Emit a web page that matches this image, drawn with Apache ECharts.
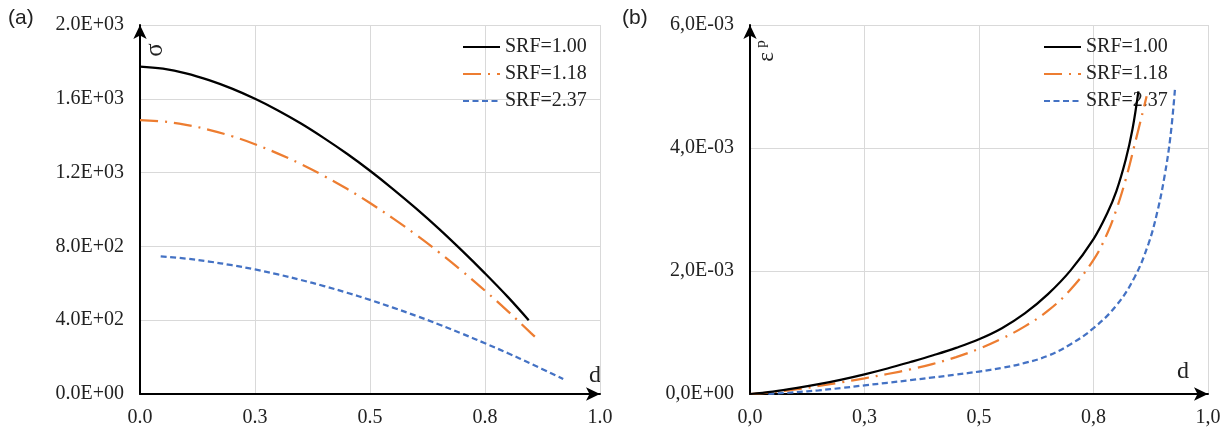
<!DOCTYPE html>
<html>
<head>
<meta charset="utf-8">
<script src="https://cdn.jsdelivr.net/npm/echarts@6/dist/echarts.min.js"></script>
<style>
html,body{margin:0;padding:0;background:#fff;}
#chart{width:1230px;height:434px;}
</style>
</head>
<body>
<div id="chart"></div>
<script>
// ---- Data ----
const seriesNames = ['SRF=1.00', 'SRF=1.18', 'SRF=2.37'];

// Panel (a): sigma vs d
const dA1 = [0, 0.05, 0.1, 0.15, 0.2, 0.25, 0.3, 0.35, 0.4, 0.45, 0.5, 0.55, 0.6, 0.65, 0.7, 0.75, 0.8, 0.845];
const sA1 = [1775, 1763, 1738, 1701, 1655, 1600, 1537, 1466, 1387, 1302, 1210, 1111, 1006, 895, 777, 654, 525, 400];
const dA2 = [0, 0.05, 0.1, 0.15, 0.2, 0.25, 0.3, 0.35, 0.4, 0.45, 0.5, 0.55, 0.6, 0.65, 0.7, 0.75, 0.8, 0.85, 0.866];
const sA2 = [1485, 1477, 1459, 1432, 1397, 1354, 1303, 1246, 1182, 1112, 1035, 952, 863, 768, 667, 560, 448, 330, 293];
const dA3 = [0.045, 0.1, 0.15, 0.2, 0.25, 0.3, 0.35, 0.4, 0.45, 0.5, 0.55, 0.6, 0.65, 0.7, 0.75, 0.8, 0.85, 0.92];
const sA3 = [746, 734, 718, 698, 675, 648, 618, 585, 549, 510, 468, 424, 377, 327, 275, 221, 164, 81];

// Panel (b): plastic strain vs d
const dB1 = [0, 0.05, 0.1, 0.15, 0.2, 0.25, 0.3, 0.35, 0.4, 0.45, 0.5, 0.55, 0.6, 0.65, 0.7, 0.75, 0.78, 0.8, 0.82, 0.835, 0.848];
const eB1 = [0, 4e-5, 9.5e-5, 1.6e-4, 2.35e-4, 3.2e-4, 4.15e-4, 5.2e-4, 6.3e-4, 7.5e-4, 8.9e-4, 1.07e-3, 1.31e-3, 1.62e-3, 2.01e-3, 2.52e-3, 2.94e-3, 3.30e-3, 3.80e-3, 4.30e-3, 4.92e-3];
const dB2 = [0, 0.05, 0.1, 0.15, 0.2, 0.25, 0.3, 0.35, 0.4, 0.45, 0.5, 0.55, 0.6, 0.65, 0.7, 0.75, 0.78, 0.8, 0.82, 0.84, 0.866];
const eB2 = [0, 3e-5, 7.5e-5, 1.3e-4, 1.9e-4, 2.55e-4, 3.25e-4, 4.0e-4, 4.9e-4, 6.0e-4, 7.35e-4, 9.0e-4, 1.10e-3, 1.35e-3, 1.70e-3, 2.18e-3, 2.61e-3, 3.00e-3, 3.48e-3, 4.06e-3, 4.84e-3];
const dB3 = [0.04, 0.1, 0.15, 0.2, 0.25, 0.3, 0.35, 0.4, 0.45, 0.5, 0.55, 0.6, 0.65, 0.7, 0.75, 0.8, 0.84, 0.87, 0.89, 0.905, 0.918, 0.928];
const eB3 = [0, 3e-5, 6e-5, 9.75e-5, 1.4e-4, 1.825e-4, 2.25e-4, 2.7e-4, 3.15e-4, 3.65e-4, 4.25e-4, 5.05e-4, 6.2e-4, 8.1e-4, 1.07e-3, 1.44e-3, 1.9025e-3, 2.4425e-3, 2.9825e-3, 3.5375e-3, 4.1875e-3, 4.97e-3];

// Tick labels
const xTicksA = ['0.0', '0.3', '0.5', '0.8', '1.0'];
const xTicksB = ['0,0', '0,3', '0,5', '0,8', '1,0'];
const yTicksA = ['0.0E+00', '4.0E+02', '8.0E+02', '1.2E+03', '1.6E+03', '2.0E+03'];
const yTicksB = ['0,0E+00', '2,0E-03', '4,0E-03', '6,0E-03'];

// ---- Chart ----
const pairs = (xs, ys) => xs.map((x, i) => [x, ys[i]]);
const serif = '"Liberation Serif", "Times New Roman", serif';
const colors = ['#000000', '#ED7D31', '#4472C4'];
const lineTypes = ['solid', [18, 7, 2, 7], [6, 3.5]];

function xAxis(gridIndex, ticks) {
  return {
    type: 'value', gridIndex, min: 0, max: 1, interval: 0.25,
    axisLine: { show: true, lineStyle: { color: '#000', width: 2 }, symbol: ['none', 'arrow'], symbolSize: [10, 14] },
    axisTick: { show: false },
    axisLabel: { color: '#222', fontFamily: serif, fontSize: 20, margin: 14,
      formatter: v => ticks[Math.round(v / 0.25)] },
    splitLine: { show: true, lineStyle: { color: '#d9d9d9', width: 1 } }
  };
}
function yAxis(gridIndex, max, interval, ticks) {
  return {
    type: 'value', gridIndex, min: 0, max, interval,
    axisLine: { show: true, lineStyle: { color: '#000', width: 2 }, symbol: ['none', 'arrow'], symbolSize: [10, 14] },
    axisTick: { show: false },
    axisLabel: { color: '#222', fontFamily: serif, fontSize: 20, margin: 16,
      formatter: v => ticks[Math.round(v / interval)] },
    splitLine: { show: true, lineStyle: { color: '#d9d9d9', width: 1 } }
  };
}
function mkSeries(idx, data, gi) {
  return {
    name: seriesNames[idx], type: 'line', xAxisIndex: gi, yAxisIndex: gi,
    data, showSymbol: false, symbol: 'none', smooth: 0.4,
    lineStyle: { color: colors[idx], width: 2.25, type: lineTypes[idx] },
    itemStyle: { color: colors[idx] },
    z: 10 - idx
  };
}
function legend(left) {
  return {
    left, top: 37, orient: 'vertical', itemWidth: 37, itemHeight: 14, itemGap: 7, padding: 0,
    data: seriesNames,
    itemStyle: { opacity: 0 },
    textStyle: { color: '#222', fontFamily: serif, fontSize: 20, lineHeight: 20 }
  };
}

const chart = echarts.init(document.getElementById('chart'), null, { renderer: 'canvas' });
chart.setOption({
  animation: false,
  backgroundColor: '#fff',
  grid: [
    { left: 140, top: 25, width: 460, height: 369 },
    { left: 750, top: 25, width: 458, height: 369 }
  ],
  xAxis: [xAxis(0, xTicksA), xAxis(1, xTicksB)],
  yAxis: [yAxis(0, 2000, 400, yTicksA), yAxis(1, 0.006, 0.002, yTicksB)],
  legend: [legend(462), legend(1043)],
  series: [
    mkSeries(0, pairs(dA1, sA1), 0),
    mkSeries(1, pairs(dA2, sA2), 0),
    mkSeries(2, pairs(dA3, sA3), 0),
    mkSeries(0, pairs(dB1, eB1), 1),
    mkSeries(1, pairs(dB2, eB2), 1),
    mkSeries(2, pairs(dB3, eB3), 1)
  ],
  graphic: [
    { type: 'text', x: 8, y: 18, style: { text: '(a)', font: '21px "Liberation Sans", Arial, sans-serif', fill: '#222', textVerticalAlign: 'middle' } },
    { type: 'text', x: 622, y: 18, style: { text: '(b)', font: '21px "Liberation Sans", Arial, sans-serif', fill: '#222', textVerticalAlign: 'middle' } },
    { type: 'text', x: 155, y: 50, rotation: Math.PI / 2, style: { text: 'σ', font: '25px ' + serif, fill: '#222', textAlign: 'center', textVerticalAlign: 'middle' } },
    { type: 'text', x: 767, y: 57, rotation: Math.PI / 2, style: { text: 'ε', font: '23px ' + serif, fill: '#222', textAlign: 'center', textVerticalAlign: 'middle' } },
    { type: 'text', x: 761, y: 44, rotation: Math.PI / 2, style: { text: 'p', font: '15px ' + serif, fill: '#222', textAlign: 'center', textVerticalAlign: 'middle' } },
    { type: 'text', x: 595, y: 376, style: { text: 'd', font: '24px ' + serif, fill: '#222', textAlign: 'center', textVerticalAlign: 'middle' } },
    { type: 'text', x: 1183, y: 372, style: { text: 'd', font: '24px ' + serif, fill: '#222', textAlign: 'center', textVerticalAlign: 'middle' } }
  ]
});
</script>
</body>
</html>
